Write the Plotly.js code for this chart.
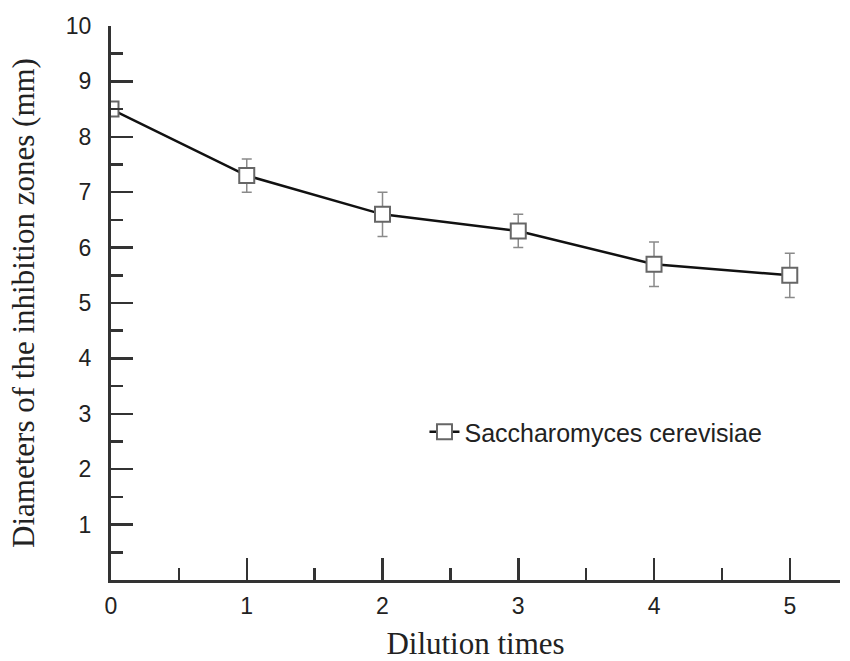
<!DOCTYPE html>
<html>
<head>
<meta charset="utf-8">
<script src="https://cdn.plot.ly/plotly-3.0.1.min.js"></script>
<style>html,body{margin:0;padding:0;background:#fff;}#chart{width:850px;height:661px;}</style>
</head>
<body>
<div id="chart"></div>
<script>
const dilution = [0, 1, 2, 3, 4, 5];
const diameters = [8.5, 7.3, 6.6, 6.3, 5.7, 5.5];
const errors = [0.1, 0.3, 0.4, 0.3, 0.4, 0.4];
const seriesName = 'Saccharomyces cerevisiae';
const xTitle = 'Dilution times';
const yTitle = 'Diameters of the inhibition zones (mm)';

const trace = {
  x: dilution,
  y: diameters,
  name: seriesName,
  type: 'scatter',
  mode: 'lines+markers',
  cliponaxis: true,
  line: {color: '#111', width: 2.5},
  marker: {symbol: 'square', size: 15, color: '#fff', line: {color: '#666', width: 2}},
  error_y: {type: 'data', array: errors, visible: true, color: '#8a8a8a', thickness: 1.5, width: 5}
};

const layout = {
  width: 850, height: 661,
  margin: {l: 111, r: 10, t: 26, b: 81},
  paper_bgcolor: '#fff', plot_bgcolor: '#fff',
  showlegend: true,
  legend: {x: 0.43, y: 0.267, xanchor: 'left', yanchor: 'middle', bgcolor: 'rgba(0,0,0,0)',
           font: {family: 'Liberation Sans, Arial, sans-serif', size: 25, color: '#222'}},
  xaxis: {
    range: [0, 5.37], showgrid: false, zeroline: false,
    showline: true, linecolor: '#333', linewidth: 3,
    ticks: 'inside', ticklen: 22, tickwidth: 2.5, tickcolor: '#333',
    tickvals: dilution, ticktext: dilution.map(String),
    minor: {dtick: 0.5, ticks: 'inside', ticklen: 12, tickwidth: 2.5, tickcolor: '#333'},
    tickfont: {family: 'Liberation Sans, Arial, sans-serif', size: 23, color: '#222'},
    ticklabelstandoff: 3,
    title: {text: xTitle, font: {family: 'Liberation Serif, Times New Roman, serif', size: 31, color: '#222'}, standoff: 20}
  },
  yaxis: {
    range: [0, 10], showgrid: false, zeroline: false,
    showline: true, linecolor: '#333', linewidth: 3,
    ticks: 'inside', ticklen: 22, tickwidth: 2.5, tickcolor: '#333',
    tickvals: [1,2,3,4,5,6,7,8,9,10],
    minor: {dtick: 0.5, ticks: 'inside', ticklen: 12, tickwidth: 2.5, tickcolor: '#333'},
    tickfont: {family: 'Liberation Sans, Arial, sans-serif', size: 23, color: '#222'},
    ticklabelstandoff: 12,
    title: {text: yTitle, font: {family: 'Liberation Serif, Times New Roman, serif', size: 31, color: '#222'}, standoff: 22}
  }
};

Plotly.newPlot('chart', [trace], layout, {displayModeBar: false, staticPlot: true});
</script>
</body>
</html>
